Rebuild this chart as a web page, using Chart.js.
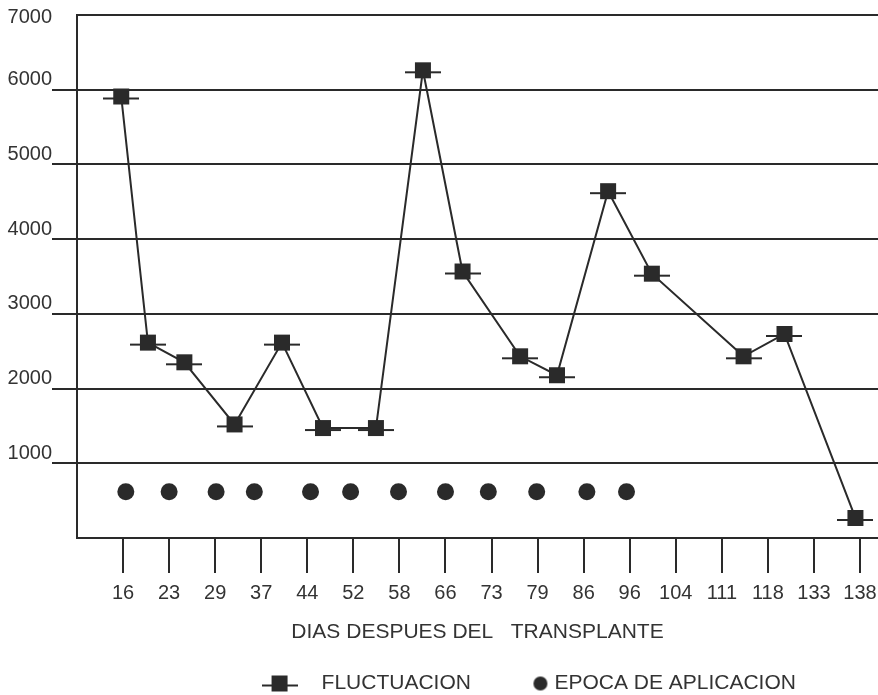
<!DOCTYPE html>
<html>
<head>
<meta charset="utf-8">
<title>Fluctuacion</title>
<script src="https://cdn.jsdelivr.net/npm/chart.js@4.4.1/dist/chart.umd.min.js"></script>
<style>
  body { margin: 0; background: #fff; }
  #wrap { width: 878px; height: 695px; }
</style>
</head>
<body>
<div id="wrap"><canvas id="grafik" width="878" height="695"></canvas></div>
<script>
// dias despues del transplante (eje x)
var dias = ['16','23','29','37','44','52','58','66','73','79','86','96','104','111','118','133','138'];

// fluctuacion: posicion sobre el eje (indice de dia) y valor
var fluctX = [-0.04, 0.54, 1.33, 2.42, 3.45, 4.34, 5.49, 6.51, 7.37, 8.62, 9.42, 10.53, 11.48, 13.47, 14.36, 15.90];
var fluctY = [5910, 2615, 2352, 1520, 2615, 1472, 1472, 6260, 3567, 2432, 2179, 4642, 3538, 2432, 2731, 268];

// epoca de aplicacion
var aplicX = [0.06, 1.00, 2.02, 2.85, 4.07, 4.94, 5.98, 7.00, 7.93, 8.98, 10.07, 10.93];
var aplicY = [620, 620, 620, 620, 620, 620, 620, 620, 620, 620, 620, 620];

var yTicks = [0, 1000, 2000, 3000, 4000, 5000, 6000, 7000];

var ink = '#2a2a2a';
var txt = '#333333';

function toPoints(xs, ys){
	var pts = [];
	for(var i=0;i<xs.length;i++){
		pts.push({x: xs[i], y: ys[i]});
	}
	return pts;
}

// square with a dash through it
function markerCanvas(w, cx){
	var c = document.createElement('canvas');
	c.width = w; c.height = 18;
	var g = c.getContext('2d');
	g.fillStyle = ink;
	g.fillRect(cx - 8, 1, 16, 16);
	g.fillRect(cx - 18, 10, 36, 2);
	return c;
}
function dotCanvas(w, cx, r){
	var c = document.createElement('canvas');
	c.width = w; c.height = 18;
	var g = c.getContext('2d');
	g.fillStyle = ink;
	g.beginPath();
	g.arc(cx, 9, r, 0, Math.PI*2);
	g.fill();
	return c;
}

var pointImg = markerCanvas(36, 18);
var legendImg1 = markerCanvas(36, 18);
var legendImg2 = dotCanvas(74, 65, 7);

Chart.defaults.font.family = "'Liberation Sans', Arial, sans-serif";
Chart.defaults.font.size = 20;
Chart.defaults.color = txt;

var moveLegend = {
	id: 'moveLegend',
	afterLayout: function(chart){
		chart.legend.left += 83;
		chart.legend.right += 83;
	}
};

var ctx = document.getElementById('grafik').getContext('2d');
var myChart = new Chart(ctx, {
	type: 'scatter',
	data: {
		datasets: [{
			label: 'FLUCTUACION',
			data: toPoints(fluctX, fluctY),
			showLine: true,
			borderColor: ink,
			borderWidth: 2,
			pointStyle: pointImg,
			pointRadius: 9,
			pointHoverRadius: 9
		}, {
			label: 'EPOCA DE APLICACION',
			data: toPoints(aplicX, aplicY),
			showLine: false,
			pointStyle: 'circle',
			pointRadius: 8.5,
			pointHoverRadius: 8.5,
			backgroundColor: ink,
			borderWidth: 0
		}]
	},
	options: {
		responsive: false,
		animation: false,
		events: [],
		layout: { autoPadding: false, padding: { top: 15, left: 0, right: 0, bottom: 0 } },
		scales: {
			x: {
				type: 'linear',
				min: -1,
				max: 16.39,
				afterBuildTicks: function(scale){
					scale.ticks = dias.map(function(d, i){ return {value: i}; });
				},
				afterFit: function(scale){
					scale.height = 125;
					scale.paddingLeft = 0;
					scale.paddingRight = 0;
				},
				ticks: {
					padding: 8,
					maxRotation: 0,
					autoSkip: false,
					color: txt,
					callback: function(v){ return dias[v]; }
				},
				grid: {
					drawOnChartArea: false,
					drawTicks: true,
					tickLength: 35,
					color: ink,
					lineWidth: 2
				},
				border: { display: true, color: ink, width: 2 },
				title: {
					display: true,
					text: 'DIAS DESPUES DEL   TRANSPLANTE',
					color: txt,
					font: { size: 21 },
					padding: { top: 16, bottom: 18 }
				}
			},
			y: {
				min: 0,
				max: 7000,
				afterBuildTicks: function(scale){
					scale.ticks = yTicks.map(function(v){ return {value: v}; });
				},
				afterFit: function(scale){
					scale.width = 77;
					scale.paddingTop = 0;
					scale.paddingBottom = 0;
				},
				ticks: {
					padding: 0,
					labelOffset: -10,
					color: txt,
					callback: function(v){
						if(v==0) return '';
						if(v==7000) return ['', '7000'];
						return String(v);
					}
				},
				grid: {
					color: ink,
					lineWidth: 2,
					drawTicks: true,
					tickLength: 25,
					tickColor: function(c){
						var v = c.tick ? c.tick.value : 0;
						return (v==0 || v==7000) ? 'rgba(0,0,0,0)' : ink;
					}
				},
				border: { display: true, color: ink, width: 2 }
			}
		},
		plugins: {
			tooltip: { enabled: false },
			legend: {
				position: 'bottom',
				maxHeight: 32,
				labels: {
					usePointStyle: true,
					pointStyleWidth: 63,
					boxHeight: 10,
					padding: 10,
					color: txt,
					font: { size: 21 },
					generateLabels: function(chart){
						var items = Chart.defaults.plugins.legend.labels.generateLabels(chart);
						items[0].pointStyle = legendImg1;
						items[1].pointStyle = legendImg2;
						return items;
					}
				}
			}
		}
	},
	plugins: [moveLegend]
});
</script>
</body>
</html>
